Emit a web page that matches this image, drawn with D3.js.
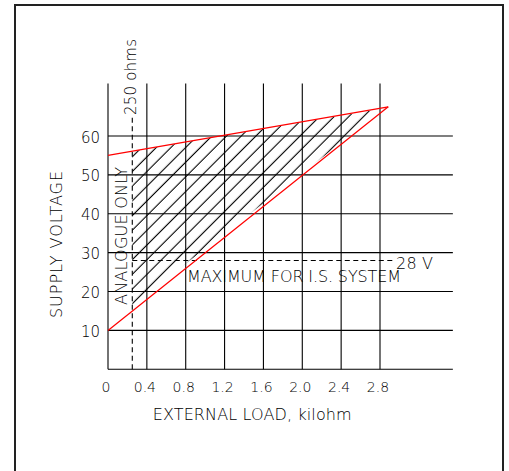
<!DOCTYPE html>
<html lang="en">
	<head>
		<meta charset="utf-8">
		<title>Supply voltage vs external load</title>
		<script type="text/javascript" src="https://cdn.jsdelivr.net/npm/d3@7"></script>
		<style type="text/css">
			body { margin: 0; background: #fff; }
			text { font-family: "DejaVu Sans", sans-serif; font-weight: 200; fill: #000; }
		</style>
	</head>
	<body>
		<script type="text/javascript">

		// values
		var loadTicks = [0, 0.4, 0.8, 1.2, 1.6, 2.0, 2.4, 2.8];
		var loadLabels = ["0", "0.4", "0.8", "1.2", "1.6", "2.0", "2.4", "2.8"];
		var voltTicks = [0, 10, 20, 30, 40, 50, 60];
		var voltLabels = ["", "10", "20", "30", "40", "50", "60"];
		var upperLine = [[0, 55], [2.885, 67.5]];
		var lowerLine = [[0, 10], [2.885, 67.5]];
		var hatchArea = [[0.25, 56.1], [2.86, 67.2], [0.25, 16.5]];
		var analogueLimit = 0.25;   // kilohm (250 ohms)
		var isMaxVolt = 28;         // V
		var loadMax = 3.55, gridTop = 73.5;

		var w = 509, h = 471;
		var svg = d3.select("body")
			.append("svg")
				.attr("width", w)
				.attr("height", h);

		var x = d3.scaleLinear().domain([0, 2.8]).range([108, 380]);
		var y = d3.scaleLinear().domain([0, 60]).range([369.3, 136]);

		// frame
		svg.append("rect")
			.attr("x", 15).attr("y", 5)
			.attr("width", 488).attr("height", 480)
			.attr("fill", "none")
			.attr("stroke", "#222")
			.attr("stroke-width", 2);

		// hatch pattern
		var pat = svg.append("defs").append("pattern")
			.attr("id", "hatch")
			.attr("patternUnits", "userSpaceOnUse")
			.attr("width", 10.39).attr("height", 10.39)
			.attr("patternTransform", "rotate(45)");
		pat.append("line")
			.attr("x1", 7).attr("x2", 7)
			.attr("y1", -1).attr("y2", 12)
			.attr("stroke", "#000")
			.attr("stroke-width", 1.1);

		var lineGen = d3.line()
			.x(function(d) { return x(d[0]); })
			.y(function(d) { return y(d[1]); });

		svg.append("path")
			.attr("d", lineGen(hatchArea) + "Z")
			.attr("fill", "url(#hatch)")
			.attr("stroke", "none");

		// grid
		svg.selectAll("line.h")
			.data(voltTicks)
			.enter()
			.append("line")
			.attr("class", "h")
			.attr("x1", x(0)).attr("x2", x(loadMax))
			.attr("y1", function(d) { return y(d); })
			.attr("y2", function(d) { return y(d); })
			.attr("stroke", "#000")
			.attr("stroke-width", 1.1);

		svg.selectAll("line.v")
			.data(loadTicks)
			.enter()
			.append("line")
			.attr("class", "v")
			.attr("x1", function(d) { return x(d); })
			.attr("x2", function(d) { return x(d); })
			.attr("y1", y(0)).attr("y2", y(gridTop))
			.attr("stroke", "#000")
			.attr("stroke-width", 1.1);

		// dashed limits
		svg.append("line")
			.attr("x1", x(analogueLimit)).attr("x2", x(analogueLimit))
			.attr("y1", y(0)).attr("y2", 115)
			.attr("stroke", "#000")
			.attr("stroke-width", 1.1)
			.attr("stroke-dasharray", "5,3.5");

		svg.append("line")
			.attr("x1", x(analogueLimit)).attr("x2", x(2.93))
			.attr("y1", y(isMaxVolt)).attr("y2", y(isMaxVolt))
			.attr("stroke", "#000")
			.attr("stroke-width", 1.1)
			.attr("stroke-dasharray", "5,3.5");

		// red boundary lines
		svg.selectAll("path.red")
			.data([upperLine, lowerLine])
			.enter()
			.append("path")
			.attr("class", "red")
			.attr("d", lineGen)
			.attr("fill", "none")
			.attr("stroke", "#ff0000")
			.attr("stroke-width", 1.2);

		// tick labels
		svg.selectAll("text.xt")
			.data(loadTicks)
			.enter()
			.append("text")
			.attr("class", "xt")
			.attr("x", function(d) { return x(d) - 2; })
			.attr("y", 391.7)
			.attr("font-size", "14px")
			.attr("text-anchor", "middle")
			.text(function(d, i) { return loadLabels[i]; });

		svg.selectAll("text.yt")
			.data(voltTicks)
			.enter()
			.append("text")
			.attr("class", "yt")
			.attr("x", 100)
			.attr("y", function(d) { return y(d) + 6.5; })
			.attr("font-size", "15px")
			.attr("text-anchor", "end")
			.text(function(d, i) { return voltLabels[i]; });

		// axis titles and notes
		svg.append("text")
			.attr("x", 152.7).attr("y", 420)
			.attr("font-size", "16px")
			.attr("textLength", 199)
			.text("EXTERNAL LOAD, kilohm");

		svg.append("text")
			.attr("transform", "translate(62,318) rotate(-90)")
			.attr("font-size", "16px")
			.attr("textLength", 147)
			.text("SUPPLY VOLTAGE");

		svg.append("text")
			.attr("transform", "translate(127,305) rotate(-90)")
			.attr("font-size", "16px")
			.attr("textLength", 138)
			.text("ANALOGUE ONLY");

		svg.append("text")
			.attr("transform", "translate(136,115) rotate(-90)")
			.attr("font-size", "15px")
			.attr("textLength", 76)
			.text("250 ohms");

		svg.append("text")
			.attr("x", 187).attr("y", 282.3)
			.attr("font-size", "16px")
			.attr("textLength", 214)
			.text("MAXIMUM FOR I.S. SYSTEM");

		svg.append("text")
			.attr("x", 396).attr("y", 269)
			.attr("font-size", "16px")
			.attr("textLength", 37)
			.text("28 V");

		</script>
	</body>
</html>
